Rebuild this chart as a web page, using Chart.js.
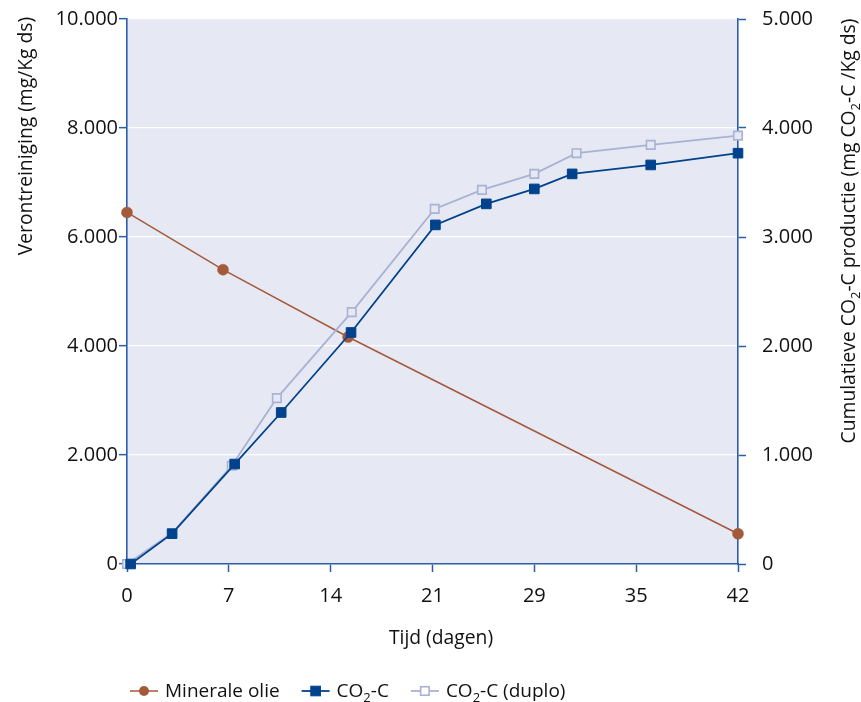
<!DOCTYPE html>
<html><head><meta charset="utf-8">
<script src="https://cdn.jsdelivr.net/npm/chart.js@4"></script>
<style>html,body{margin:0;padding:0;background:#fff}#wrap{width:861px;height:702px}</style>
</head><body><div id="wrap"><canvas id="c" width="861" height="702"></canvas></div>
<script>
// ---- data ----
const xTickValues = [0, 7, 14, 21, 28, 35, 42];
const xTickLabels = ['0', '7', '14', '21', '29', '35', '42'];
const leftTickValues = [0, 2000, 4000, 6000, 8000, 10000];
const leftTickLabels = ['0', '2.000', '4.000', '6.000', '8.000', '10.000'];
const rightTickValues = [0, 1000, 2000, 3000, 4000, 5000];
const rightTickLabels = ['0', '1.000', '2.000', '3.000', '4.000', '5.000'];

const mineraleDays = [0, 6.6, 15.2, 42];
const mineraleValues = [6450, 5400, 4165, 555];
const co2Days = [0.25, 3.1, 7.4, 10.6, 15.4, 21.2, 24.7, 28.0, 30.6, 36.0, 42];
const co2Values = [0, 278, 917, 1390, 2124, 3111, 3304, 3441, 3579, 3661, 3769];
const duploDays = [0, 3.1, 7.2, 10.3, 15.45, 21.15, 24.4, 28.0, 30.9, 36.0, 42];
const duploValues = [0, 284, 901, 1522, 2311, 3258, 3432, 3579, 3769, 3845, 3930];

const seriesNames = ['Minerale olie', 'CO2-C', 'CO2-C (duplo)'];
const leftTitle = 'Verontreiniging (mg/Kg ds)';
const rightTitle = 'Cumulatieve CO2-C productie (mg CO2-C /Kg ds)';
const xTitle = 'Tijd (dagen)';

// ---- styles ----
const FONT = '"Open Sans", "Noto Sans", sans-serif';
const FS_TICK = 20;
const FS_TITLE = 19.3;
const FS_LEG = 19;
const TXT = '#111111';
const AXIS = '#2a5ea8';
const PLOTBG = '#e6e9f3';
const BROWN = '#a35a3a';
const DARK = '#00428c';
const LIGHT = '#a9b2d3';

const pts = (xs, ys) => xs.map((x, i) => ({x: x, y: ys[i]}));

// split "CO2" into subscript segments
function segs(text) {
  const out = [];
  const re = /CO2/g;
  let last = 0, m;
  while ((m = re.exec(text)) !== null) {
    out.push([text.slice(last, m.index) + 'CO', false]);
    out.push(['2', true]);
    last = m.index + 3;
  }
  out.push([text.slice(last), false]);
  return out.filter(s => s[0].length);
}
function segWidth(ctx, sg, size) {
  let w = 0;
  for (const [t, sub] of sg) {
    ctx.font = (sub ? Math.round(size * 0.66) : size) + 'px ' + FONT;
    w += ctx.measureText(t).width;
  }
  return w;
}
function drawSegs(ctx, sg, x, y, size) {
  let cx = x;
  ctx.textAlign = 'left';
  ctx.textBaseline = 'alphabetic';
  for (const [t, sub] of sg) {
    ctx.font = (sub ? Math.round(size * 0.66) : size) + 'px ' + FONT;
    ctx.fillText(t, cx, sub ? y + size * 0.28 : y);
    cx += ctx.measureText(t).width;
  }
  return cx - x;
}

const bgPlugin = {
  id: 'plotbg',
  beforeDraw(chart) {
    const {ctx, chartArea: a} = chart;
    ctx.save();
    ctx.fillStyle = PLOTBG;
    ctx.fillRect(a.left, a.top, a.right - a.left, a.bottom - a.top);
    ctx.restore();
  }
};

function legendSymbol(chart, ctx, i, x, y) {
  const ds = chart.data.datasets[i];
  ctx.save();
  ctx.strokeStyle = ds.borderColor;
  ctx.lineWidth = ds.borderWidth;
  ctx.beginPath(); ctx.moveTo(x, y); ctx.lineTo(x + 28, y); ctx.stroke();
  const cx = x + 14;
  if (ds.pointStyle === 'circle') {
    ctx.fillStyle = ds.pointBackgroundColor;
    ctx.beginPath(); ctx.arc(cx, y, 5, 0, Math.PI * 2); ctx.fill();
  } else {
    const s = ds.pointRadius * Math.SQRT1_2;
    ctx.fillStyle = ds.pointBackgroundColor === PLOTBG ? '#ffffff' : ds.pointBackgroundColor;
    ctx.fillRect(cx - s, y - s, 2 * s, 2 * s);
    ctx.lineWidth = ds.pointBorderWidth;
    ctx.strokeStyle = ds.pointBorderColor;
    ctx.strokeRect(cx - s, y - s, 2 * s, 2 * s);
  }
  ctx.restore();
}

const textPlugin = {
  id: 'texts',
  afterDraw(chart) {
    const ctx = chart.ctx;
    ctx.save();
    ctx.fillStyle = TXT;
    // left title (rotated, reads bottom-to-top)
    let sg = segs(leftTitle);
    let w = segWidth(ctx, sg, FS_TITLE);
    ctx.save();
    ctx.translate(32, 136 + w / 2);
    ctx.rotate(-Math.PI / 2);
    drawSegs(ctx, sg, 0, 0, FS_TITLE);
    ctx.restore();
    // right title
    sg = segs(rightTitle);
    w = segWidth(ctx, sg, FS_TITLE);
    ctx.save();
    ctx.translate(855, 231 + w / 2);
    ctx.rotate(-Math.PI / 2);
    drawSegs(ctx, sg, 0, 0, FS_TITLE);
    ctx.restore();
    // x title
    sg = segs(xTitle);
    w = segWidth(ctx, sg, FS_TITLE);
    drawSegs(ctx, sg, 441 - w / 2, 644, FS_TITLE);
    // legend
    let x = 130;
    const ly = 691;
    for (let i = 0; i < seriesNames.length; i++) {
      legendSymbol(chart, ctx, i, x, ly);
      ctx.fillStyle = TXT;
      const tw = drawSegs(ctx, segs(seriesNames[i]), x + 35, 697, FS_LEG);
      x += 35 + tw + 22;
    }
    ctx.restore();
  }
};

const fixPad = s => { s.paddingTop = 10; s.paddingBottom = 10; };

new Chart(document.getElementById('c'), {
  type: 'line',
  data: {
    datasets: [
      {
        label: seriesNames[0], data: pts(mineraleDays, mineraleValues), yAxisID: 'yL',
        borderColor: BROWN, borderWidth: 1.5, pointStyle: 'circle', pointRadius: 5.5,
        pointBackgroundColor: BROWN, pointBorderColor: BROWN, pointBorderWidth: 0.5,
        order: 2, clip: false
      },
      {
        label: seriesNames[1], data: pts(co2Days, co2Values), yAxisID: 'yR',
        borderColor: DARK, borderWidth: 1.8, pointStyle: 'rect', pointRadius: 6.8,
        pointBackgroundColor: DARK, pointBorderColor: DARK, pointBorderWidth: 1,
        order: 0, clip: false
      },
      {
        label: seriesNames[2], data: pts(duploDays, duploValues), yAxisID: 'yR',
        borderColor: LIGHT, borderWidth: 1.8, pointStyle: 'rect', pointRadius: 6,
        pointBackgroundColor: PLOTBG, pointBorderColor: LIGHT, pointBorderWidth: 1.6,
        order: 1, clip: false
      }
    ]
  },
  options: {
    responsive: false,
    animation: false,
    events: [],
    layout: {padding: {top: 19, left: 0, right: 0, bottom: 98}},
    plugins: {legend: {display: false}, tooltip: {enabled: false}},
    elements: {line: {tension: 0}},
    scales: {
      x: {
        type: 'linear', min: 0, max: 42,
        afterBuildTicks: s => { s.ticks = xTickValues.map(v => ({value: v})); },
        afterFit: s => { s.height = 40; s.paddingLeft = 0; s.paddingRight = 0; },
        ticks: {
          autoSkip: false, maxRotation: 0, padding: 12, color: TXT,
          font: {family: FONT, size: FS_TICK},
          callback: v => xTickLabels[xTickValues.indexOf(v)]
        },
        grid: {drawOnChartArea: false, tickLength: 8, tickColor: AXIS, tickWidth: 1.5},
        border: {color: AXIS, width: 1.6}
      },
      yL: {
        type: 'linear', position: 'left', min: 0, max: 10000,
        afterBuildTicks: s => { s.ticks = leftTickValues.map(v => ({value: v})); },
        afterFit: s => { s.width = 127; fixPad(s); },
        ticks: {
          padding: 1, color: TXT, font: {family: FONT, size: FS_TICK},
          callback: v => leftTickLabels[leftTickValues.indexOf(v)]
        },
        grid: {
          color: c => (c.tick && c.tick.value === 0) ? 'rgba(0,0,0,0)' : '#ffffff',
          lineWidth: 1.3, tickLength: 8, tickColor: AXIS, tickWidth: 1.5
        },
        border: {color: AXIS, width: 1.6}
      },
      yR: {
        type: 'linear', position: 'right', min: 0, max: 5000,
        afterBuildTicks: s => { s.ticks = rightTickValues.map(v => ({value: v})); },
        afterFit: s => { s.width = 123; fixPad(s); },
        ticks: {
          padding: 16, color: TXT, font: {family: FONT, size: FS_TICK},
          callback: v => rightTickLabels[rightTickValues.indexOf(v)]
        },
        grid: {drawOnChartArea: false, tickLength: 8, tickColor: AXIS, tickWidth: 1.5},
        border: {color: AXIS, width: 1.6}
      }
    }
  },
  plugins: [bgPlugin, textPlugin]
});
</script>
</body></html>
